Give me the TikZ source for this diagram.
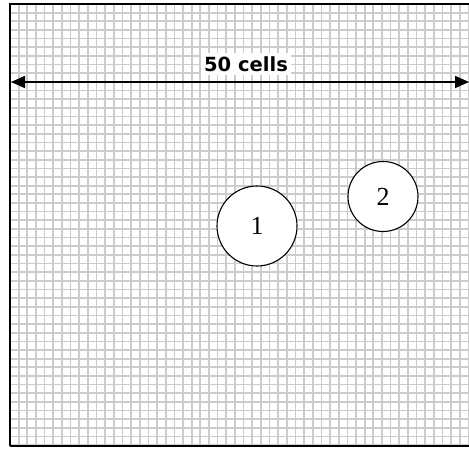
\documentclass[tikz,border=0pt]{standalone}
\usepackage{fontspec}
\setmainfont{Liberation Serif}
\newfontfamily\labelfont{DejaVu Sans}
\usetikzlibrary{arrows.meta}
\tikzstyle{cell}=[draw=gray!40, line width=1.7pt]
\tikzstyle{area}=[circle, draw=black, fill=white, line width=1.1pt,
    font=\fontsize{26}{26}\selectfont]
\tikzstyle{span}=[line width=1.8pt,
    {Triangle[length=14pt,width=12pt]}-{Triangle[length=14pt,width=12pt]}]
\def\cellsize{8.65}

\begin{document}
\begin{tikzpicture}[x=1pt,y=-1pt]
    \useasboundingbox (0,0) rectangle (469,448);
    \clip (0,0) rectangle (469,448);
    \fill[white] (0,0) rectangle (469,448);
    % grid of cells
    \foreach \i in {0,...,53}
        \draw[cell] (10+\i*\cellsize,4) -- (10+\i*\cellsize,446);
    \foreach \j in {0,...,51}
        \draw[cell] (10,4+\j*\cellsize) -- (480,4+\j*\cellsize);
    \draw[line width=1.6pt] (10,446) -- (10,4) -- (480,4);
    \draw[line width=1.6pt] (10,446) -- (480,446);
    % width of the field
    \coordinate (west) at (11,82);
    \coordinate (east) at (469,82);
    \draw[span] (west) -- (east);
    \node (width) [fill=white, inner sep=3pt,
        font=\labelfont\bfseries\fontsize{19.5}{19.5}\selectfont] at (246,64) {50 cells};
    % the two regions
    \node (one) [area, minimum size=80pt] at (257,226) {1};
    \node (two) [area, minimum size=70pt] at (383,196.5) {2};
\end{tikzpicture}
\end{document}
